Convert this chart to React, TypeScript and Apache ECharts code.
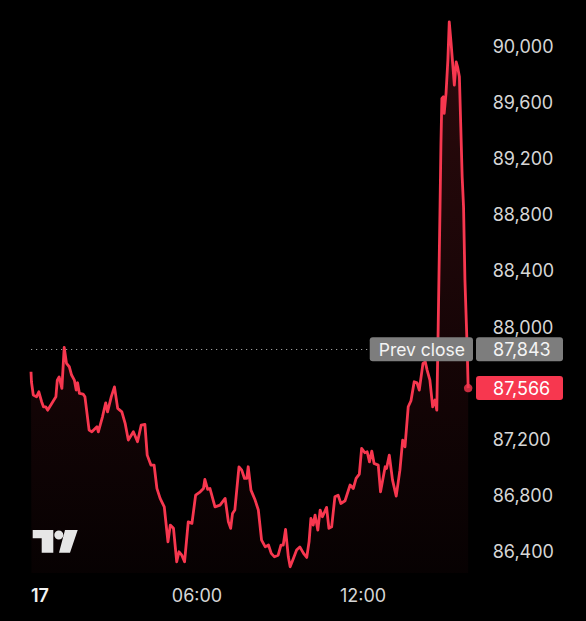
import React, { useEffect, useRef } from "react";
import * as echarts from "echarts";

// Intraday price series: [minutes since 00:00, price]
const intradayPrices: [number, number][] = [
  [0, 87682], [1, 87609], [5, 87516], [12, 87504], [17, 87540], [23, 87469], [27, 87433], [32, 87433],
  [36, 87409], [45, 87457], [54, 87504], [57, 87623], [61, 87646], [67, 87564], [72, 87856], [77, 87742],
  [83, 87718], [88, 87659], [94, 87623], [98, 87552], [101, 87604], [105, 87528], [113, 87523], [117, 87504],
  [126, 87267], [132, 87255], [143, 87291], [146, 87255], [155, 87362], [162, 87461], [166, 87397], [174, 87504],
  [181, 87575], [188, 87422], [197, 87397], [204, 87317], [211, 87196], [222, 87255], [231, 87184], [239, 87303],
  [247, 87308], [252, 87089], [260, 87018], [267, 87018], [273, 86852], [280, 86781], [289, 86721], [297, 86472],
  [302, 86591], [309, 86568], [316, 86330], [321, 86401], [327, 86377], [333, 86330], [341, 86614], [349, 86603],
  [357, 86804], [367, 86828], [374, 86852], [377, 86916], [383, 86845], [388, 86852], [399, 86721], [410, 86733],
  [421, 86781], [428, 86614], [433, 86568], [437, 86674], [442, 86698], [451, 87006], [457, 86982], [463, 86923],
  [468, 86923], [471, 87006], [477, 86840], [486, 86769], [493, 86698], [500, 86484], [508, 86436], [515, 86449],
  [521, 86390], [528, 86365], [536, 86377], [542, 86449], [547, 86449], [552, 86560], [558, 86365], [562, 86294],
  [569, 86354], [576, 86413], [583, 86436], [591, 86390], [598, 86361], [603, 86472], [607, 86639], [612, 86591],
  [616, 86662], [622, 86555], [627, 86698], [632, 86650], [641, 86717], [646, 86568], [652, 86579], [659, 86792],
  [666, 86804], [672, 86745], [681, 86764], [692, 86876], [699, 86852], [705, 86923], [712, 86954], [717, 87137],
  [724, 87106], [729, 87113], [734, 87041], [739, 87118], [744, 87030], [753, 87018], [758, 86828], [768, 87006],
  [771, 86994], [777, 87089], [784, 86911], [792, 86797], [800, 86982], [806, 87196], [811, 87148], [818, 87433],
  [824, 87476], [831, 87611], [837, 87604], [842, 87552], [850, 87742], [855, 87753], [859, 87694], [865, 87623],
  [871, 87433], [876, 87481], [880, 87409], [883, 88002], [887, 88856], [889, 89308], [891, 89628], [894, 89639],
  [896, 89521], [900, 89663], [904, 89900], [907, 90173], [911, 90019], [915, 89853], [918, 89722], [922, 89888],
  [925, 89853], [929, 89782], [932, 89426], [935, 89070], [938, 88856], [941, 88335], [946, 87836], [948, 87566],
];

const prevClose = 87843;
const yTickValues = [86400, 86800, 87200, 88000, 88400, 88800, 89200, 89600, 90000];
const xTickValues = [0, 360, 720];
const xTickLabels = ["17", "06:00", "12:00"];

const LOGO_PATH =
  "M0 0H20.6V22.7H9V8.3H0Z M32.3 0H45L37.3 22.7H26.3Z M30.6 5A4.5 4.5 0 1 1 21.6 5A4.5 4.5 0 1 1 30.6 5Z";

let logoRegistered = false;

export default function App() {
  const ref = useRef<HTMLDivElement>(null);

  useEffect(() => {
    if (!ref.current) return;
    if (!logoRegistered) {
      echarts.graphic.registerShape("tvlogo", (echarts.graphic as any).extendPath(LOGO_PATH, {}));
      logoRegistered = true;
    }
    const chart = echarts.init(ref.current, undefined, { renderer: "svg" });
    const last = intradayPrices[intradayPrices.length - 1];
    const red = "#f7374f";
    const font = "Inter, 'Noto Sans', sans-serif";
    const yMin = 86250;
    const yMax = 90250;

    const fmt = (v: number) => Math.round(v).toLocaleString("en-US");

    chart.setOption({
      animation: false,
      backgroundColor: "#000",
      grid: { left: 31, right: 110, top: 11, bottom: 48, containLabel: false },
      xAxis: {
        type: "value",
        min: 0,
        max: 965,
        axisLine: { show: false },
        axisTick: { show: false },
        splitLine: { show: false },
        axisLabel: {
          customValues: xTickValues,
          alignMinLabel: "left",
          margin: 13,
          color: "#d6d6d6",
          fontSize: 18,
          fontFamily: font,
          formatter: (v: number) => {
            const i = xTickValues.indexOf(v);
            const t = i >= 0 ? xTickLabels[i] : "";
            return i === 0 ? "{d|" + t + "}" : t;
          },
          rich: { d: { color: "#f2f2f2", fontWeight: 600, fontSize: 18, fontFamily: font } },
        },
      },
      yAxis: [
        {
          type: "value",
          position: "right",
          min: yMin,
          max: yMax,
          axisLine: { show: false },
          axisTick: { show: false },
          splitLine: { show: false },
          axisLabel: {
            customValues: yTickValues,
            margin: 16.7,
            color: "#d6d6d6",
            fontSize: 18,
            fontFamily: font,
            formatter: (v: number) => fmt(v),
          },
        },
        {
          type: "value",
          position: "right",
          min: yMin,
          max: yMax,
          z: 10,
          axisLine: { show: false },
          axisTick: { show: false },
          splitLine: { show: false },
          axisLabel: {
            customValues: [prevClose, last[1]],
            margin: 0,
            formatter: (v: number) => (v === prevClose ? "{p|" + fmt(v) + "}" : "{l|" + fmt(v) + "}"),
            rich: {
              p: {
                backgroundColor: "#7d7d7d",
                color: "#f4f4f4",
                fontSize: 18,
                fontFamily: font,
                lineHeight: 19,
                width: 60,
                padding: [3, 10, 3, 17],
                borderRadius: 3,
              },
              l: {
                backgroundColor: red,
                color: "#ffffff",
                fontSize: 18,
                fontFamily: font,
                lineHeight: 19,
                width: 60,
                padding: [3, 10, 3, 17],
                borderRadius: 3,
              },
            },
          },
        },
        {
          type: "value",
          position: "right",
          min: yMin,
          max: yMax,
          z: 10,
          axisLine: { show: false },
          axisTick: { show: false },
          splitLine: { show: false },
          axisLabel: {
            inside: true,
            customValues: [prevClose],
            margin: 3,
            formatter: () => "{c|Prev close}",
            rich: {
              c: {
                backgroundColor: "#7d7d7d",
                color: "#f4f4f4",
                fontSize: 17.5,
                fontFamily: font,
                lineHeight: 19,
                padding: [3, 8, 3, 9],
                borderRadius: 3,
              },
            },
          },
        },
      ],
      series: [
        {
          type: "line",
          data: intradayPrices,
          yAxisIndex: 0,
          showSymbol: false,
          symbol: "none",
          lineStyle: { color: red, width: 2.8, join: "round" },
          areaStyle: {
            origin: "start",
            color: new echarts.graphic.LinearGradient(0, 0, 0, 1, [
              { offset: 0, color: "rgba(242,54,69,0.26)" },
              { offset: 1, color: "rgba(242,54,69,0.04)" },
            ]),
          },
          markLine: {
            silent: true,
            symbol: "none",
            label: { show: false },
            lineStyle: { color: "#9c9c9c", type: [1.2, 3.8], width: 1.2 },
            data: [{ yAxis: prevClose }],
          },
          z: 2,
        },
        {
          type: "scatter",
          yAxisIndex: 0,
          data: [last],
          symbol: "circle",
          symbolSize: 8.5,
          itemStyle: { color: red },
          z: 3,
        },
      ],
      graphic: [
        {
          type: "tvlogo",
          x: 32.7,
          y: 530,
          style: { fill: "#e6e6e6" },
          z: 5,
        },
      ],
    });
    return () => chart.dispose();
  }, []);

  return (
    <div
      ref={ref}
      style={{ position: "fixed", left: 0, top: 0, width: 586, height: 621, background: "#000" }}
    />
  );
}
